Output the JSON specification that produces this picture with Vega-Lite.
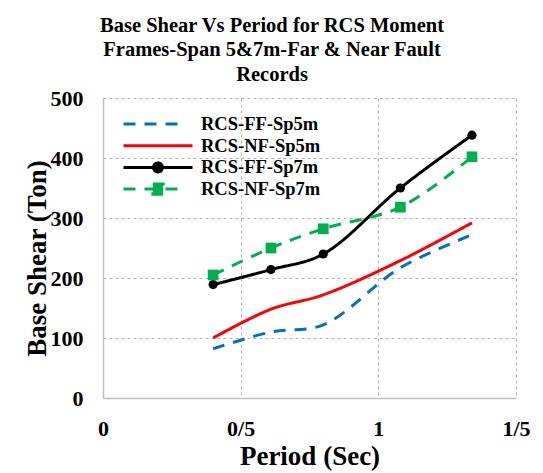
{
  "$schema": "https://vega.github.io/schema/vega-lite/v6.json",
  "width": 413,
  "height": 300,
  "autosize": {"type": "none"},
  "padding": {"left": 103, "top": 98, "right": 27, "bottom": 75},
  "background": "white",
  "title": {
    "text": ["Base Shear Vs Period for RCS Moment", "Frames-Span 5&7m-Far & Near Fault", "Records"],
    "font": "Liberation Serif", "fontSize": 20.5, "fontWeight": "bold", "color": "black",
    "lineHeight": 24.5, "anchor": "middle", "dx": -37.5, "offset": 2
  },
  "config": {
    "view": {"stroke": null},
    "axis": {
      "labelFont": "Liberation Serif", "labelFontSize": 22, "labelFontWeight": "bold", "labelColor": "black",
      "titleFont": "Liberation Serif", "titleFontSize": 27, "titleFontWeight": "bold", "titleColor": "black",
      "domainColor": "#bfbfbf", "domainWidth": 1.5, "gridColor": "#b3b3b3", "gridDash": [3, 3], "gridWidth": 1,
      "ticks": false
    }
  },
  "data": {"values": [
    {"series": "RCS-FF-Sp5m", "period": 0.40, "shear": 82},
    {"series": "RCS-FF-Sp5m", "period": 0.61, "shear": 110},
    {"series": "RCS-FF-Sp5m", "period": 0.80, "shear": 122},
    {"series": "RCS-FF-Sp5m", "period": 1.08, "shear": 217},
    {"series": "RCS-FF-Sp5m", "period": 1.34, "shear": 272},
    {"series": "RCS-NF-Sp5m", "period": 0.40, "shear": 100},
    {"series": "RCS-NF-Sp5m", "period": 0.61, "shear": 148},
    {"series": "RCS-NF-Sp5m", "period": 0.80, "shear": 172},
    {"series": "RCS-NF-Sp5m", "period": 1.08, "shear": 229},
    {"series": "RCS-NF-Sp5m", "period": 1.34, "shear": 292},
    {"series": "RCS-FF-Sp7m", "period": 0.40, "shear": 189},
    {"series": "RCS-FF-Sp7m", "period": 0.61, "shear": 214},
    {"series": "RCS-FF-Sp7m", "period": 0.80, "shear": 240},
    {"series": "RCS-FF-Sp7m", "period": 1.08, "shear": 350},
    {"series": "RCS-FF-Sp7m", "period": 1.34, "shear": 438},
    {"series": "RCS-NF-Sp7m", "period": 0.40, "shear": 205},
    {"series": "RCS-NF-Sp7m", "period": 0.61, "shear": 250},
    {"series": "RCS-NF-Sp7m", "period": 0.80, "shear": 282},
    {"series": "RCS-NF-Sp7m", "period": 1.08, "shear": 318},
    {"series": "RCS-NF-Sp7m", "period": 1.34, "shear": 402}
  ]},
  "encoding": {
    "x": {
      "field": "period", "type": "quantitative",
      "scale": {"domain": [0, 1.5], "nice": false, "zero": false},
      "axis": {"values": [0, 0.5, 1, 1.5], "labelExpr": "replace(format(datum.value, '~g'), '.', '/')", "labelPadding": 20, "titlePadding": 4, "labelFlush": false},
      "title": "Period (Sec)"
    },
    "y": {
      "field": "shear", "type": "quantitative",
      "scale": {"domain": [0, 500], "nice": false},
      "axis": {"values": [0, 100, 200, 300, 400, 500], "labelPadding": 20, "titlePadding": -1, "titleY": 160, "labelFlush": false},
      "title": "Base Shear (Ton)"
    }
  },
  "layer": [
    {
      "mark": {"type": "line", "strokeWidth": 3, "interpolate": "catmull-rom"},
      "encoding": {
        "color": {
          "field": "series", "type": "nominal",
          "scale": {"domain": ["RCS-FF-Sp5m", "RCS-NF-Sp5m", "RCS-FF-Sp7m", "RCS-NF-Sp7m"], "range": ["#0070C0", "#FF0000", "#000000", "#00B050"]},
          "legend": {
            "orient": "none", "legendX": 19, "legendY": 16, "title": null, "padding": 0,
            "symbolSize": 4761, "symbolStrokeWidth": 3, "clipHeight": 20, "rowPadding": 1.7,
            "labelFont": "Liberation Serif", "labelFontSize": 18.5, "labelFontWeight": "bold", "labelColor": "black",
            "labelOffset": 7, "labelLimit": 0,
            "encode": {"symbols": {"update": {
              "shape": {"signal": "datum.value === 'RCS-FF-Sp7m' ? 'M-1,0H1M0.13,0A0.13,0.13,0,1,1,-0.13,0A0.13,0.13,0,1,1,0.13,0Z' : datum.value === 'RCS-NF-Sp7m' ? 'M-1,0H0.7M-0.15,-0.15H0.15V0.15H-0.15Z' : datum.value === 'RCS-FF-Sp5m' ? 'M-1,0H0.7' : 'M-1,0H1'"},
              "strokeDash": {"signal": "(datum.value === 'RCS-FF-Sp5m' || datum.value === 'RCS-NF-Sp7m') ? [12, 9] : []"},
              "fill": {"signal": "scale('color', datum.value)"},
              "stroke": {"signal": "scale('color', datum.value)"},
              "strokeWidth": {"value": 3},
              "opacity": {"value": 1}
            }}}
          }
        },
        "strokeDash": {
          "field": "series", "type": "nominal",
          "scale": {"domain": ["RCS-FF-Sp5m", "RCS-NF-Sp5m", "RCS-FF-Sp7m", "RCS-NF-Sp7m"], "range": [[12, 9], [1, 0], [1, 0], [12, 9]]},
          "legend": null
        }
      }
    },
    {
      "transform": [{"filter": "datum.series === 'RCS-FF-Sp7m'"}],
      "mark": {"type": "point", "shape": "circle", "filled": true, "opacity": 1, "size": 85, "color": "#000000"}
    },
    {
      "transform": [{"filter": "datum.series === 'RCS-NF-Sp7m'"}],
      "mark": {"type": "point", "shape": "square", "filled": true, "opacity": 1, "size": 115, "color": "#00B050"}
    }
  ]
}
